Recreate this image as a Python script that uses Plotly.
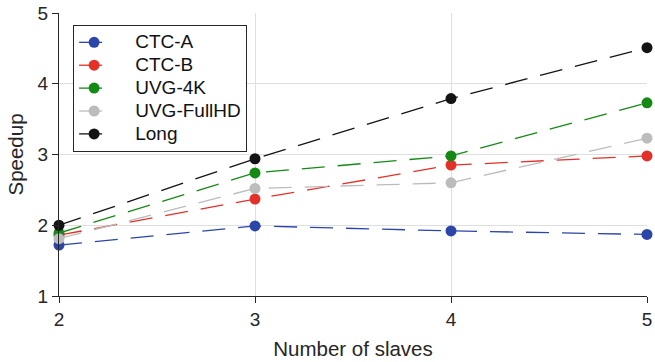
import plotly.graph_objects as go

slaves = [2, 3, 4, 5]
series_names = ["CTC-A", "CTC-B", "UVG-4K", "UVG-FullHD", "Long"]
ctc_a = [1.72, 1.99, 1.92, 1.87]
ctc_b = [1.86, 2.37, 2.85, 2.98]
uvg_4k = [1.89, 2.74, 2.98, 3.73]
uvg_fullhd = [1.81, 2.52, 2.60, 3.23]
long_seq = [2.00, 2.94, 3.79, 4.51]
colors = ["#2b45a8", "#e3312a", "#148a14", "#bcbcbc", "#141414"]

fig = go.Figure()
for name, vals, col in zip(series_names, [ctc_a, ctc_b, uvg_4k, uvg_fullhd, long_seq], colors):
    fig.add_trace(go.Scatter(
        x=slaves, y=vals, mode="lines+markers",
        name="<span style='font-size:19px'>\u00a0\u00a0\u00a0\u00a0" + name + "</span>",
        line=dict(color=col, width=1.3, dash="23px,13px"),
        marker=dict(color=col, size=11),
        cliponaxis=False,
    ))

font_family = "Liberation Sans, Arial, sans-serif"
fig.update_layout(
    width=655, height=362,
    margin=dict(l=59, r=8, t=13, b=66),
    paper_bgcolor="white", plot_bgcolor="white",
    font=dict(family=font_family, size=19, color="#262626"),
    showlegend=True,
    legend=dict(
        x=0.024, y=0.958, xanchor="left", yanchor="top",
        bordercolor="#262626", borderwidth=1, bgcolor="white",
        font=dict(size=15.3, color="#111111"),
        tracegroupgap=0, itemwidth=30,
    ),
    xaxis=dict(
        title=dict(text="Number of slaves", standoff=12, font=dict(size=20.5)),
        range=[2, 5], tickvals=[2, 3, 4, 5], ticktext=["2", "3", "4", "5"],
        showgrid=True, gridcolor="#dfdfdf", gridwidth=1,
        showline=True, linecolor="#262626", linewidth=1.3,
        ticks="outside", ticklen=6, tickcolor="#262626",
        zeroline=False, automargin=False,
    ),
    yaxis=dict(
        title=dict(text="Speedup", standoff=8, font=dict(size=20.5)),
        range=[1, 5], tickvals=[1, 2, 3, 4, 5], ticktext=["1", "2", "3", "4", "5"],
        showgrid=True, gridcolor="#dfdfdf", gridwidth=1,
        showline=True, linecolor="#262626", linewidth=1.3,
        ticks="outside", ticklen=6, tickcolor="#262626",
        zeroline=False, automargin=False,
    ),
)

fig.write_html(
    "out.html",
    config={"displayModeBar": False},
    post_script="document.body.style.margin='0';document.body.style.overflow='hidden';",
)
